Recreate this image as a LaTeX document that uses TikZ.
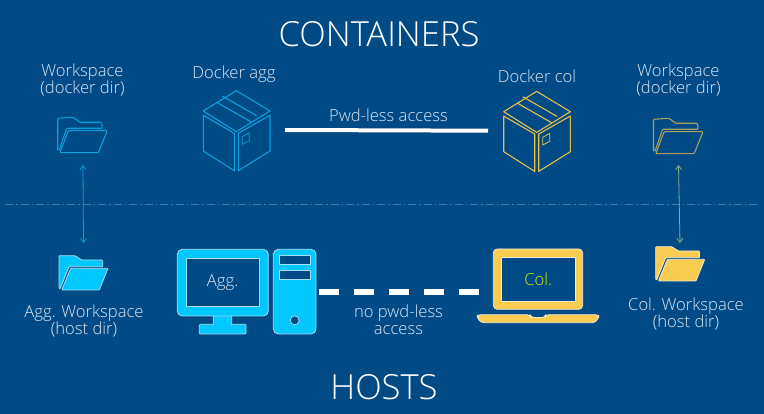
\documentclass[tikz,border=0pt]{standalone}
\usepackage{fontspec}
\setmainfont{Open Sans Light}
\usetikzlibrary{arrows.meta}
\definecolor{bgblue}{HTML}{004A86}
\definecolor{cyanfill}{HTML}{00C7FD}
\definecolor{cyanline}{HTML}{0C9FDB}
\definecolor{yelfill}{HTML}{F8CC50}
\definecolor{yelline}{HTML}{E6BE4C}
\definecolor{txt}{HTML}{DCE8F2}
\definecolor{edge}{HTML}{A8DDF2}
\definecolor{yedge}{HTML}{F3EBD0}
\definecolor{sepcol}{HTML}{3F7AA6}
\tikzset{
  x=1pt,y=-1pt,
  lbl/.style={text=txt,font=\fontsize{16.6}{17}\selectfont,align=center,inner sep=0pt},
  title/.style={text=white,font=\fontsize{34.6}{36}\selectfont,inner sep=0pt},
  outline/.style={line width=1.1pt,line join=round},
  solidicon/.style={line width=.8pt,rounded corners=.8pt,line join=round},
  biarrow/.style={line width=.8pt,{Straight Barb[length=4pt,width=6pt]}-{Straight Barb[length=4pt,width=6pt]}},
  pics/crate/.style={code={
    \draw[outline,#1] (0,0) -- (33.7,20.3) -- (0,41) -- (-33,20.3) -- cycle;
    \draw[outline,#1] (-19.6,11.6) -- (15.4,31.6) (-14,5.3) -- (20.4,25);
    \draw[outline,#1] (-33,24.6) -- (-2,42.6) -- (-2,80) -- (-33,60.3) -- cycle;
    \draw[outline,#1] (2,42.6) -- (33.7,24.6) -- (33.7,60.3) -- (2,80) -- cycle;
    \draw[outline,#1,line width=.8pt] (6,46) -- (13,42) -- (13,50) -- (6,53.6) -- cycle;
  }},
  pics/openfolder/.style={code={
    \draw[outline,#1,rounded corners=1pt] (0,33) -- (0,1) -- (15.6,0) -- (22.3,5) -- (44,5) -- (44.6,11) -- (9,11) -- (1.5,33);
    \draw[outline,#1,rounded corners=1pt] (2.3,35.4) -- (10.6,13.4) -- (49.6,13.4) -- (40.6,35.4) -- cycle;
  }},
  pics/filledfolder/.style n args={2}{code={
    \draw[solidicon,fill=#1,draw=#2] (0,33) -- (0,0) -- (16,0) -- (22.7,4.3) -- (43.7,4.3) -- (43.7,11) -- (10,11) -- (1.2,33) -- cycle;
    \draw[solidicon,fill=#1,draw=#2] (2.7,34.3) -- (11.7,12.6) -- (49,12.6) -- (40.3,34.3) -- cycle;
  }},
}
\begin{document}
\begin{tikzpicture}
\useasboundingbox (0,0) rectangle (764,414);
\fill[bgblue] (0,0) rectangle (764,414);

% titles
\node[title] (tcont) at (379,34) {CONTAINERS};
\node[title] (thost) at (384,387) {HOSTS};

% separator
\coordinate (sepL) at (5,204.4);
\coordinate (sepR) at (759,204.4);
\draw[sepcol,line width=.6pt,dash pattern=on 8pt off 3pt on 1.5pt off 3pt] (sepL) -- (sepR);

% labels
\node[lbl] (wsl) at (82.5,80) {Workspace\\(docker dir)};
\node[lbl] (wsr) at (678.5,80) {Workspace\\(docker dir)};
\node[lbl] (dagg) at (234,74) {Docker agg};
\node[lbl] (dcol) at (537,76) {Docker col};
\node[lbl] (pwd) at (388.5,115) {Pwd-less access};
\node[lbl] (nopwd) at (398.5,320) {no pwd-less\\access};
\node[lbl] (awl) at (84,321.5) {Agg. Workspace\\(host dir)};
\node[lbl] (cwl) at (686,314) {Col. Workspace\\(host dir)};

% crates
\pic at (236.3,90.7) {crate={draw=cyanline}};
\pic at (536.7,91.4) {crate={draw=yelline}};

% folders
\pic at (57.7,117.3) {openfolder={draw=cyanline}};
\pic at (653.5,118.3) {openfolder={draw=yelline!75!bgblue}};
\pic at (59,255.7) {filledfolder={cyanfill}{edge}};
\pic at (655.7,246.7) {filledfolder={yelfill}{yedge}};

% computer
\draw[solidicon,rounded corners=1pt,fill=cyanfill,draw=edge] (213.3,315) rectangle (231.7,325);
\draw[solidicon,rounded corners=1pt,fill=cyanfill,draw=edge] (199.3,324.3) rectangle (246,334);
\fill[cyanfill] (213.8,314) rectangle (231.2,325.5);
\draw[solidicon,rounded corners=5pt,fill=cyanfill,draw=edge] (177.3,249.3) rectangle (268.3,316);
\node[draw=edge,fill=bgblue,line width=.8pt,minimum width=73.3pt,minimum height=48.4pt,inner sep=0pt,text=txt,font=\fontsize{16.6}{17}\selectfont] (mon) at (222.6,282.5) {Agg.};
\node[draw=edge,fill=cyanfill,line width=.8pt,rounded corners=5pt,minimum width=42.7pt,minimum height=84.7pt,inner sep=0pt] (tower) at (294.65,291.65) {};
\draw[fill=bgblue,draw=edge,line width=.8pt] (279.3,255.7) rectangle (310,264.3);
\draw[fill=bgblue,draw=edge,line width=.8pt] (279.3,270.3) rectangle (310,279.3);
\draw[fill=bgblue,draw=edge,line width=.8pt] (294.7,320.3) circle (4.5);

% laptop
\draw[solidicon,rounded corners=4pt,fill=yelfill,draw=yedge] (493.3,309.3) -- (493.3,249) -- (582.7,249) -- (582.7,309.3) -- cycle;
\node[draw=yedge,fill=bgblue,line width=.8pt,minimum width=73.7pt,minimum height=44pt,inner sep=0pt,text=yellow!85!green,font=\fontsize{16.6}{17}\selectfont] (lap) at (538.15,279.3) {Col.};
\draw[solidicon,rounded corners=3pt,fill=yelfill,draw=yedge] (477.3,314.7) -- (530,314.7) -- (531,317.5) -- (545,317.5) -- (545.7,314.7) -- (598.7,314.7) -- (598.7,318) -- (595,322.7) -- (481,322.7) -- (477.3,318) -- cycle;

% connectors
\coordinate (solA) at (285,130);
\coordinate (solB) at (488,130.7);
\draw[white,line width=4pt] (solA) -- (solB);
\coordinate (dashA) at (319,292);
\coordinate (dashB) at (479,292);
\draw[white,line width=5.4pt,dash pattern=on 20pt off 15pt] (dashA) -- (dashB);
\coordinate (arA) at (83,165);
\coordinate (arB) at (83.5,243);
\draw[biarrow,cyanline] (arA) -- (arB);
\coordinate (arC) at (678.5,165);
\coordinate (arD) at (680,243);
\draw[biarrow,yelline!55!cyanline] (arC) -- (arD);
\end{tikzpicture}
\end{document}
